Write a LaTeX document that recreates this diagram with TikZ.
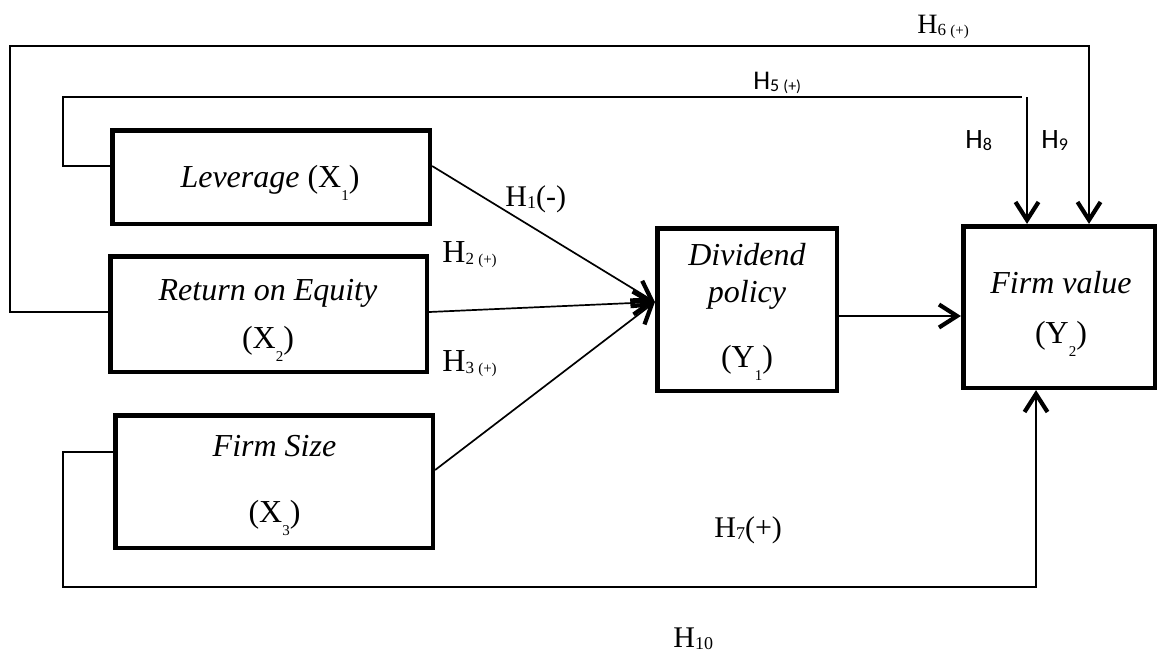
\documentclass[tikz,border=0pt]{standalone}
\usepackage{fontspec}
\setmainfont{Liberation Serif}
\newfontfamily\calibfont{Carlito}
\usetikzlibrary{arrows.meta,calc}
\newcommand\fs[1]{\fontsize{#1}{#1}\selectfont}
\newcommand\boxsub[1]{\raisebox{-6.5pt}{\fs{7.5}#1}}
\newcommand\hsub[1]{\raisebox{-1.2pt}{\fs{9}#1}}
\begin{document}
\begin{tikzpicture}[x=0.5pt,y=-0.5pt,
  varbox/.style={draw,line width=2.3pt,inner sep=0pt},
  conn/.style={line width=0.85pt},
  arr/.style={conn,-{Straight Barb[length=9pt,width=11.5pt,line width=2.1pt]}},
  boxtxt/.style={anchor=base,inner sep=0pt,font=\fs{16}},
  hlab/.style={anchor=base west,inner sep=0pt,font=\fs{15}},
  hsans/.style={anchor=base west,inner sep=0pt,font=\calibfont\fs{14}}]
\useasboundingbox (0,0) rectangle (1159,653);

% boxes
\node[varbox,minimum width=158.8pt,minimum height=46.8pt] (lev) at (271,177) {};
\node[varbox,minimum width=158.3pt,minimum height=57.8pt] (roe) at (268.5,314) {};
\node[varbox,minimum width=158.8pt,minimum height=66.3pt] (fs) at (274,481.5) {};
\node[varbox,minimum width=89.8pt,minimum height=81.3pt] (div) at (747,309.5) {};
\node[varbox,minimum width=95.8pt,minimum height=80.8pt] (firm) at (1059,307) {};

% box texts
\node[boxtxt] (levt) at (270,187) {\textit{Leverage} (X\boxsub{1})};
\node[boxtxt] (roet1) at (268,300) {\textit{Return on Equity}};
\node[boxtxt] (roet2) at (268,348) {(X\boxsub{2})};
\node[boxtxt] (fst1) at (274.5,456) {\textit{Firm Size}};
\node[boxtxt] (fst2) at (274.5,522) {(X\boxsub{3})};
\node[boxtxt] (divt1) at (747,265) {\textit{Dividend}};
\node[boxtxt] (divt2) at (747,302) {\textit{policy}};
\node[boxtxt] (divt3) at (747,367) {(Y\boxsub{1})};
\node[boxtxt] (firmt1) at (1061,293) {\textit{Firm value}};
\node[boxtxt] (firmt2) at (1061,343) {(Y\boxsub{2})};

% connectors into dividend policy
\draw[arr] ($(lev.east)+(0,-11)$) -- ($(div.west)+(0,-7.5)$);
\draw[arr] ($(roe.east)+(0,-2)$) -- ($(div.west)+(0,-7.5)$);
\draw[arr] ($(fs.east)+(0,-11.5)$) -- ($(div.west)+(0,-7.5)$);
% dividend -> firm value
\draw[arr] ($(div.east)+(0,6.5)$) -- ($(firm.west)+(0,9)$);
% H5 loop
\draw[conn] ($(lev.west)+(0,-11)$) -| (63,97) -- (1022,97);
\coordinate (h5top) at (1027,97);
\draw[arr] (h5top) -- (h5top |- firm.north);
% H6 loop
\draw[arr] ($(roe.west)+(0,-2)$) -| (10,46) -| ($(firm.north)+(30,0)$);
% H10 loop
\draw[arr] ($(fs.west)+(0,-29.5)$) -| (63,587) -| ($(firm.south)+(-23,0)$);

% labels
\node[hlab] (l1) at (505,206) {H\hsub{1}(-)};
\node[hlab,font=\fs{16}] (l2) at (442,262) {H\raisebox{-1pt}{\fs{8.5}2 \fs{7.5}(+)}};
\node[hlab,font=\fs{16}] (l3) at (442,371) {H\raisebox{-1pt}{\fs{8.5}3 \fs{7.5}(+)}};
\node[hsans,font=\calibfont\fs{13.5}] (l5) at (753,89) {H\raisebox{-1.2pt}{\fs{9}5 \fs{8}(+)}};
\node[hlab,font=\fs{14}] (l6) at (917,33) {H\raisebox{-1pt}{\fs{8.5}6 \fs{7.5}(+)}};
\node[hsans] (l8) at (965,148) {H\raisebox{-1.2pt}{\fs{9}8}};
\node[hsans] (l9) at (1041,148) {H\raisebox{-1.2pt}{\fs{9}9}};
\node[hlab] (l7) at (714,537) {H\hsub{7}(+)};
\node[hlab] (l10) at (673,647) {H\hsub{10}};
\end{tikzpicture}
\end{document}
